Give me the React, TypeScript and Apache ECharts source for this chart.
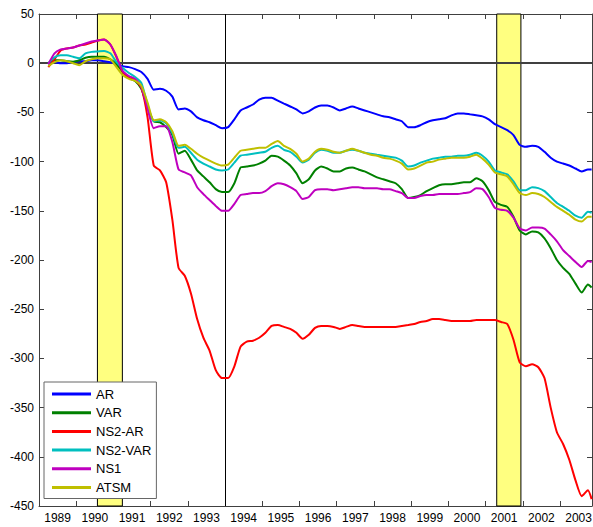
import React, { useEffect, useRef } from "react";
import * as echarts from "echarts";

const dates = [
  1989.25, 1989.417, 1989.583, 1989.75, 1989.917,
  1990.083, 1990.25, 1990.417, 1990.583, 1990.75, 1990.917,
  1991.083, 1991.25, 1991.417, 1991.583, 1991.75, 1991.917,
  1992.083, 1992.25, 1992.417, 1992.583, 1992.75, 1992.917,
  1993.083, 1993.25, 1993.417, 1993.583, 1993.75, 1993.917,
  1994.083, 1994.25, 1994.417, 1994.583, 1994.75, 1994.917,
  1995.083, 1995.25, 1995.417, 1995.583, 1995.75, 1995.917,
  1996.083, 1996.25, 1996.417, 1996.583, 1996.75, 1996.917,
  1997.083, 1997.25, 1997.417, 1997.583, 1997.75, 1997.917,
  1998.083, 1998.25, 1998.417, 1998.583, 1998.75, 1998.917,
  1999.083, 1999.25, 1999.417, 1999.583, 1999.75, 1999.917,
  2000.083, 2000.25, 2000.417, 2000.583, 2000.75, 2000.917,
  2001.083, 2001.25, 2001.417, 2001.583, 2001.75, 2001.917,
  2002.083, 2002.25, 2002.417, 2002.583, 2002.75, 2002.917,
  2003.083, 2003.25, 2003.417, 2003.583, 2003.75, 2003.85,
];

const arValues = [
  -1, 1, 0, 0, 1, 2, 2, 3, 3, 2,
  1, -1, -3, -4, -6, -9, -16, -27, -26, -28,
  -34, -47, -46, -49, -55, -58, -60, -63, -66, -65,
  -57, -48, -45, -42, -37, -35, -35, -38, -41, -44,
  -47, -51, -49, -45, -43, -43, -45, -48, -46, -44,
  -46, -48, -50, -52, -54, -55, -57, -59, -65, -65,
  -63, -60, -58, -57, -56, -53, -51, -51, -52, -53,
  -54, -57, -62, -65, -68, -73, -83, -85, -84, -85,
  -90, -96, -100, -102, -104, -107, -110, -108, -108,
];

const varValues = [
  0, 3, 3, 2, 1.5, 3, 5.5, 6.5, 6.5, 6.5,
  4, -1, -9, -15, -18, -26, -45, -59, -60, -65,
  -73, -92, -89, -98, -109, -115, -121, -128, -131, -131,
  -122, -106, -105, -104, -102, -99, -94, -95, -99, -104,
  -112, -122, -118, -109, -105, -107, -110, -110, -107, -106,
  -108, -110, -113, -116, -118, -120, -122, -128, -137, -136,
  -134, -130, -127, -124, -123, -123, -122, -121, -121, -117,
  -120, -129, -141, -144, -146, -156, -170, -174, -171, -172,
  -178, -188, -200, -208, -214, -224, -233, -225, -228,
];

const ns2arValues = [
  -4, 4, 13, 15, 16, 18, 19, 21, 23, 24,
  19, 6, -9, -15, -17, -25, -55, -104, -109, -121,
  -159, -208, -216, -234, -260, -279, -292, -312, -320, -320,
  -308, -288, -283, -282, -279, -274, -267, -266, -268, -270,
  -274, -280, -276, -269, -267, -267, -268, -270, -268, -266,
  -267, -268, -268, -268, -268, -268, -268, -267, -266, -265,
  -263, -262, -260, -260, -261, -262, -262, -262, -262, -261,
  -261, -261, -261, -263, -265, -281, -304, -308, -306, -309,
  -320, -350, -375, -387, -403, -424, -440, -434, -443,
];

const ns2varValues = [
  0, 6, 8, 8, 6.5, 5, 10, 11.5, 12, 12.5,
  10, 1, -5, -10, -14, -20, -42, -59, -58, -61,
  -71, -86, -85, -91, -98, -102, -105, -108, -109, -108,
  -101, -94, -93, -92, -91, -90, -86, -84, -88, -90,
  -95, -101, -98, -91, -88, -89, -91, -91, -89, -88,
  -89, -91, -92, -93, -94, -95, -96, -99, -105, -104,
  -101, -99, -97, -96, -95, -95, -94, -94, -93, -91,
  -94, -100, -109, -111, -113, -120, -129, -129, -126, -127,
  -130, -136, -142, -146, -150, -155, -157, -151, -152,
];

const ns1Values = [
  -1, 10, 14, 15, 16, 18, 20, 22, 23, 24,
  19, 7, -8, -13, -16, -24, -46, -66, -64, -64,
  -80, -108, -111, -114, -126, -133, -139, -145, -150, -150,
  -143, -134, -133, -132, -132, -130, -125, -122, -123, -126,
  -130, -138, -136, -129, -128, -128, -129, -128, -127, -126,
  -126, -127, -127, -127, -128, -128, -130, -132, -137, -137,
  -135, -134, -134, -133, -133, -133, -133, -132, -131, -127,
  -128, -136, -147, -149, -150, -157, -168, -170, -167, -167,
  -168, -174, -181, -190, -196, -202, -207, -201, -202,
];

const atsmValues = [
  -3, 1, 3, 2, 0, -2, 2, 4, 5, 5,
  4, -4, -12, -16, -18, -23, -40, -58, -57, -60,
  -69, -84, -83, -87, -92, -96, -99, -102, -104, -103,
  -96, -89, -88, -87, -86, -86, -82, -79, -84, -87,
  -92, -100, -97, -90, -87, -88, -90, -91, -89, -87,
  -89, -91, -93, -94, -96, -97, -99, -102, -108, -107,
  -104, -101, -100, -98, -97, -96, -96, -96, -95, -93,
  -97, -103, -111, -113, -115, -123, -132, -134, -132, -133,
  -136, -141, -146, -150, -154, -159, -161, -156, -156,
];

const seriesNames = ["AR", "VAR", "NS2-AR", "NS2-VAR", "NS1", "ATSM"];
const seriesColors = ["#0000ff", "#008000", "#ff0000", "#00bfbf", "#bf00bf", "#bfbf00"];
const seriesValues = [arValues, varValues, ns2arValues, ns2varValues, ns1Values, atsmValues];

const recessions = [
  [1990.57, 1991.24],
  [2001.3, 2001.95],
];
const eventLine = 1994.01;

const yearTicks = [1990, 1991, 1992, 1993, 1994, 1995, 1996, 1997, 1998, 1999, 2000, 2001, 2002, 2003];
const yearLabels = [1989, 1990, 1991, 1992, 1993, 1994, 1995, 1996, 1997, 1998, 1999, 2000, 2001, 2002, 2003];

const X_MIN = 1989;
const X_MAX = 2003.86;
const FONT = 'Arial, "Liberation Sans", sans-serif';
const AXIS_COLOR = "#404040";
const LEGEND_ICON = "path://M0,0 L39,0 L39,3 L0,3 Z";

export default function App() {
  const ref = useRef<HTMLDivElement>(null);

  useEffect(() => {
    if (!ref.current) return;
    const chart = echarts.init(ref.current, undefined, { renderer: "svg" });

    const baseX = {
      type: "value",
      min: X_MIN,
      max: X_MAX,
      splitLine: { show: false },
      axisLine: { show: true, onZero: false, lineStyle: { color: AXIS_COLOR, width: 1 } },
    };
    const baseY = {
      type: "value",
      min: -450,
      max: 50,
      interval: 50,
      splitLine: { show: false },
      axisLine: { show: true, onZero: false, lineStyle: { color: AXIS_COLOR, width: 1 } },
    };

    const lineSeries = seriesNames.map((name, i) => ({
      name,
      type: "line",
      data: dates.map((d, j) => [d, seriesValues[i][j]]),
      symbol: "none",
      smooth: 0.2,
      z: 5,
      lineStyle: { color: seriesColors[i], width: 2 },
      itemStyle: { color: seriesColors[i] },
    }));

    chart.setOption({
      animation: false,
      backgroundColor: "#ffffff",
      grid: {
        left: 39,
        top: 14,
        width: 553,
        height: 492,
        containLabel: false,
        outerBoundsMode: "none",
      },
      xAxis: [
        {
          ...baseX,
          position: "bottom",
          axisTick: {
            show: true,
            inside: true,
            length: 5,
            customValues: yearTicks,
            lineStyle: { color: AXIS_COLOR },
          },
          axisLabel: {
            show: true,
            customValues: yearLabels.map((y) => y + 0.5),
            formatter: (v: number) => String(Math.floor(v)),
            color: "#000",
            fontSize: 12,
            fontFamily: FONT,
            margin: 6,
          },
        },
        {
          ...baseX,
          position: "top",
          axisTick: {
            show: true,
            inside: true,
            length: 5,
            customValues: yearTicks,
            lineStyle: { color: AXIS_COLOR },
          },
          axisLabel: { show: false },
        },
      ],
      yAxis: [
        {
          ...baseY,
          position: "left",
          axisTick: { show: true, inside: true, length: 5, lineStyle: { color: AXIS_COLOR } },
          axisLabel: { color: "#000", fontSize: 12, fontFamily: FONT, margin: 5 },
        },
        {
          ...baseY,
          position: "right",
          axisTick: { show: true, inside: true, length: 5, lineStyle: { color: AXIS_COLOR } },
          axisLabel: { show: false },
        },
      ],
      legend: {
        data: seriesNames.map((name) => ({ name, icon: LEGEND_ICON })),
        orient: "vertical",
        left: 44,
        top: 382,
        itemWidth: 39,
        itemHeight: 14,
        itemGap: 4.7,
        symbolKeepAspect: true,
        padding: [5, 5, 4, 8],
        backgroundColor: "#ffffff",
        borderColor: "#666666",
        borderWidth: 1,
        borderRadius: 0,
        textStyle: { color: "#000", fontSize: 13, fontFamily: FONT, lineHeight: 14 },
      },
      series: [
        {
          name: "__bg",
          type: "line",
          data: [],
          symbol: "none",
          z: 1,
          silent: true,
          markArea: {
            silent: true,
            itemStyle: { color: "#ffff80", borderColor: "#000000", borderWidth: 1 },
            data: recessions.map(([a, b]) => [{ xAxis: a }, { xAxis: b }]),
          },
          markLine: {
            silent: true,
            symbol: "none",
            label: { show: false },
            data: [
              { xAxis: eventLine, lineStyle: { color: "#000000", width: 1, type: "solid" } },
              { yAxis: 0, lineStyle: { color: AXIS_COLOR, width: 2, type: "solid" } },
            ],
          },
        },
        ...lineSeries,
      ],
    });

    return () => chart.dispose();
  }, []);

  return (
    <div
      ref={ref}
      style={{ position: "fixed", left: 0, top: 0, width: 593, height: 527 }}
    />
  );
}
